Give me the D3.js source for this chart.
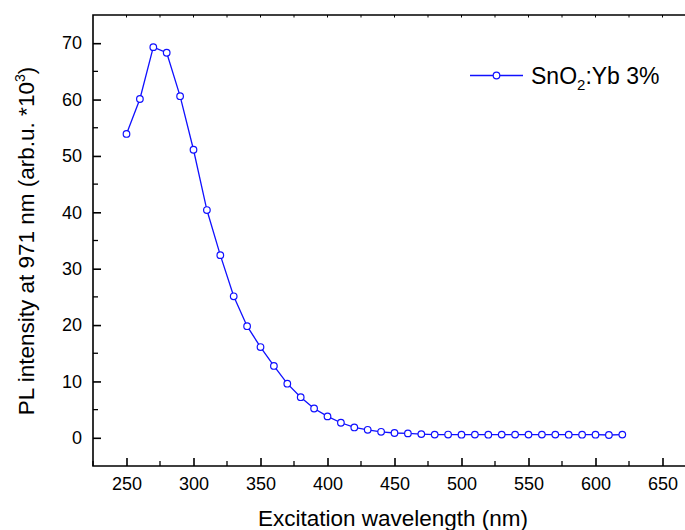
<!DOCTYPE html>
<html><head><meta charset="utf-8">
<script src="https://cdn.jsdelivr.net/npm/d3@7"></script>
<style>body{margin:0;background:#fff}svg{display:block}text{font-family:"Liberation Sans",Arial,sans-serif}</style>
</head><body><svg id="c" width="685" height="530"></svg>
<script>
const wavelengths = [250,260,270,280,290,300,310,320,330,340,350,360,370,380,390,400,410,420,430,440,450,460,470,480,490,500,510,520,530,540,550,560,570,580,590,600,610,620];
const intensity = [53.9,60.1,69.3,68.3,60.6,51.1,40.4,32.4,25.1,19.8,16.1,12.75,9.6,7.2,5.2,3.8,2.67,1.84,1.42,1.07,0.85,0.78,0.66,0.57,0.58,0.55,0.57,0.55,0.57,0.57,0.57,0.57,0.57,0.55,0.55,0.55,0.5,0.57];
const xTicks = [250,300,350,400,450,500,550,600,650];
const yTicks = [0,10,20,30,40,50,60,70];
const seriesName = "SnO2:Yb 3%";

const svg = d3.select("#c");
const L = 93, T = 15, B = 466;
const x = d3.scaleLinear().domain([225,675]).range([L, L + 450*1.34]);
const y = d3.scaleLinear().domain([-5,75]).range([B, T]);
const R = 700;

const g = svg.append("g");
g.append("path").attr("d", `M${R},${T}H${L}V${B}H${R}`).attr("fill","none").attr("stroke","#000").attr("stroke-width",1.6);

// bottom axis
const xMinor = d3.range(225, 676, 25);
const xb = g.append("g").attr("transform",`translate(0,${B})`);
xb.call(d3.axisBottom(x).tickValues(xTicks).tickSize(-8).tickPadding(11).tickFormat(d3.format("d")))
  .call(a=>a.select(".domain").remove());
xb.selectAll(".tick line").attr("stroke-width",1.6);
xb.selectAll(".tick text").attr("font-size",18).attr("fill","#000");
xb.selectAll(".minor").data(xMinor.filter(v=>!xTicks.includes(v))).enter().append("line")
  .attr("x1",d=>x(d)).attr("x2",d=>x(d)).attr("y1",0).attr("y2",-5).attr("stroke","#000").attr("stroke-width",1.3);

// left axis
const yMinor = d3.range(-5, 76, 5).filter(v=>!yTicks.includes(v) && v>-5 && v<75);
const yl = g.append("g").attr("transform",`translate(${L},0)`);
yl.call(d3.axisLeft(y).tickValues(yTicks).tickSize(-8).tickPadding(11).tickFormat(d3.format("d")))
  .call(a=>a.select(".domain").remove());
yl.selectAll(".tick line").attr("stroke-width",1.6);
yl.selectAll(".tick text").attr("font-size",18).attr("fill","#000");
yl.selectAll(".minor").data(yMinor).enter().append("line")
  .attr("y1",d=>y(d)).attr("y2",d=>y(d)).attr("x1",0).attr("x2",5).attr("stroke","#000").attr("stroke-width",1.3);

// top axis small ticks
g.append("g").selectAll("line").data(d3.range(250, 676, 25)).enter().append("line")
  .attr("x1",d=>x(d)).attr("x2",d=>x(d)).attr("y1",T).attr("y2",T+2.5).attr("stroke","#000").attr("stroke-width",1);

// line & markers
const line = d3.line().x((d,i)=>x(wavelengths[i])).y(d=>y(d));
g.append("path").datum(intensity).attr("d",line).attr("fill","none").attr("stroke","#1010ff").attr("stroke-width",1.3);
g.selectAll("circle.pt").data(intensity).enter().append("circle").attr("class","pt")
  .attr("cx",(d,i)=>x(wavelengths[i])).attr("cy",d=>y(d)).attr("r",3.3)
  .attr("fill","#fff").attr("stroke","#1010ff").attr("stroke-width",1.2);

// legend
const lg = g.append("g");
lg.append("line").attr("x1",470).attr("x2",523).attr("y1",75.5).attr("y2",75.5).attr("stroke","#1010ff").attr("stroke-width",1.3);
lg.append("circle").attr("cx",496.5).attr("cy",75.5).attr("r",3.3).attr("fill","#fff").attr("stroke","#1010ff").attr("stroke-width",1.2);
const lt = lg.append("text").attr("x",531).attr("y",84).attr("font-size",23).attr("fill","#000");
lt.append("tspan").text("SnO");
lt.append("tspan").text("2").attr("font-size",15).attr("dy",6);
lt.append("tspan").text(":Yb 3%").attr("dy",-6);

// axis titles
g.append("text").attr("x",393).attr("y",526).attr("text-anchor","middle").attr("font-size",22.5).attr("fill","#000").text("Excitation wavelength (nm)");
const yt = g.append("text").attr("transform","translate(34,241) rotate(-90)").attr("text-anchor","middle").attr("font-size",22.5).attr("fill","#000");
yt.append("tspan").text("PL intensity at 971 nm (arb.u. *10");
yt.append("tspan").text("3").attr("font-size",14).attr("dy",-9);
yt.append("tspan").text(")").attr("dy",9);
</script></body></html>
